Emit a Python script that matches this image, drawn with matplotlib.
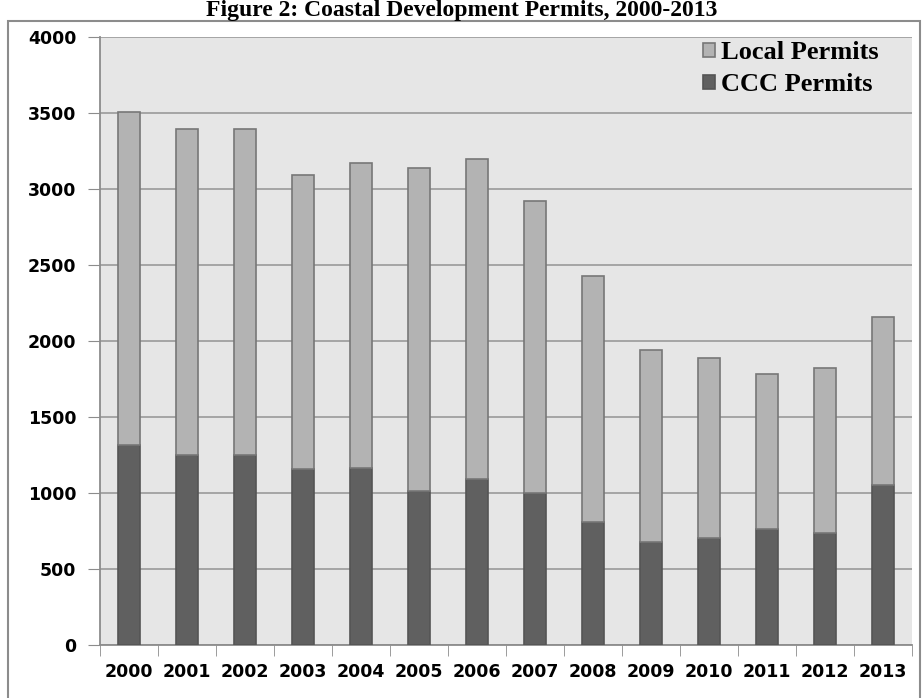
import numpy as np
import matplotlib
matplotlib.use("Agg")
import matplotlib.pyplot as plt
from matplotlib.patches import Rectangle

# values
years = ["2000", "2001", "2002", "2003", "2004", "2005", "2006",
         "2007", "2008", "2009", "2010", "2011", "2012", "2013"]
ccc_permits = [1320, 1250, 1250, 1160, 1168, 1018, 1097,
               1000, 810, 682, 707, 763, 738, 1055]
total_permits = [3510, 3398, 3398, 3097, 3176, 3143, 3198,
                 2920, 2430, 1945, 1890, 1782, 1822, 2160]
local_permits = [t - c for t, c in zip(total_permits, ccc_permits)]
y_ticks = [0, 500, 1000, 1500, 2000, 2500, 3000, 3500, 4000]

fig = plt.figure(figsize=(9.24, 6.98), dpi=100)
ax = fig.add_axes([100 / 924, 1 - 645.3 / 698, 812 / 924, 608 / 698])

# outer chart border
fig.patches.append(Rectangle((8 / 924, -0.05), 912 / 924, 1 - 21 / 698 + 0.05,
                             transform=fig.transFigure, fill=False,
                             edgecolor="#8c8c8c", linewidth=1.5))

fig.text(0.5, 1 - 16 / 698, "Figure 2: Coastal Development Permits, 2000-2013",
         ha="center", va="baseline", fontsize=17, fontweight="bold",
         family="Liberation Serif")

x = np.arange(len(years))
w = 0.39
ax.bar(x, ccc_permits, w, color="#606060", edgecolor="#555555",
       linewidth=1.2, label="CCC Permits", zorder=3)
ax.bar(x, local_permits, w, bottom=ccc_permits, color="#b3b3b3",
       edgecolor="#777777", linewidth=1.2, label="Local Permits", zorder=3)

ax.set_facecolor("#e6e6e6")
ax.set_xlim(-0.5, len(years) - 0.5)
ax.set_ylim(0, 4000)
ax.set_yticks(y_ticks)
ax.set_yticklabels([str(v) for v in y_ticks], fontsize=12.5,
                   fontweight="bold", family="DejaVu Sans")
ax.yaxis.grid(True, color="#a0a0a0", linewidth=1.3, zorder=0)
ax.set_axisbelow(True)

# category ticks sit between bars, labels centred under bars
ax.set_xticks(x)
ax.set_xticklabels(years, fontsize=12.5, fontweight="bold",
                   family="DejaVu Sans")
ax.set_xticks(np.arange(-0.5, len(years)), minor=True)
ax.tick_params(axis="x", which="major", length=0, pad=13)
ax.tick_params(axis="x", which="minor", length=8, color="#8c8c8c",
               direction="out")
ax.tick_params(axis="y", length=9, color="#8c8c8c", pad=8)

for side in ["top", "right"]:
    ax.spines[side].set_visible(False)
for side in ["left", "bottom"]:
    ax.spines[side].set_color("#8c8c8c")
    ax.spines[side].set_linewidth(1.3)

handles, labels = ax.get_legend_handles_labels()
ax.legend(handles[::-1], labels[::-1], loc="upper right", frameon=False,
          prop={"family": "Liberation Serif", "weight": "bold", "size": 19},
          handlelength=0.45, handleheight=0.45, handletextpad=0.25,
          labelspacing=0.35, borderpad=0, borderaxespad=0,
          bbox_to_anchor=(879 / 924, 1 - 41 / 698),
          bbox_transform=fig.transFigure)

fig.savefig("out.png", dpi=100)
